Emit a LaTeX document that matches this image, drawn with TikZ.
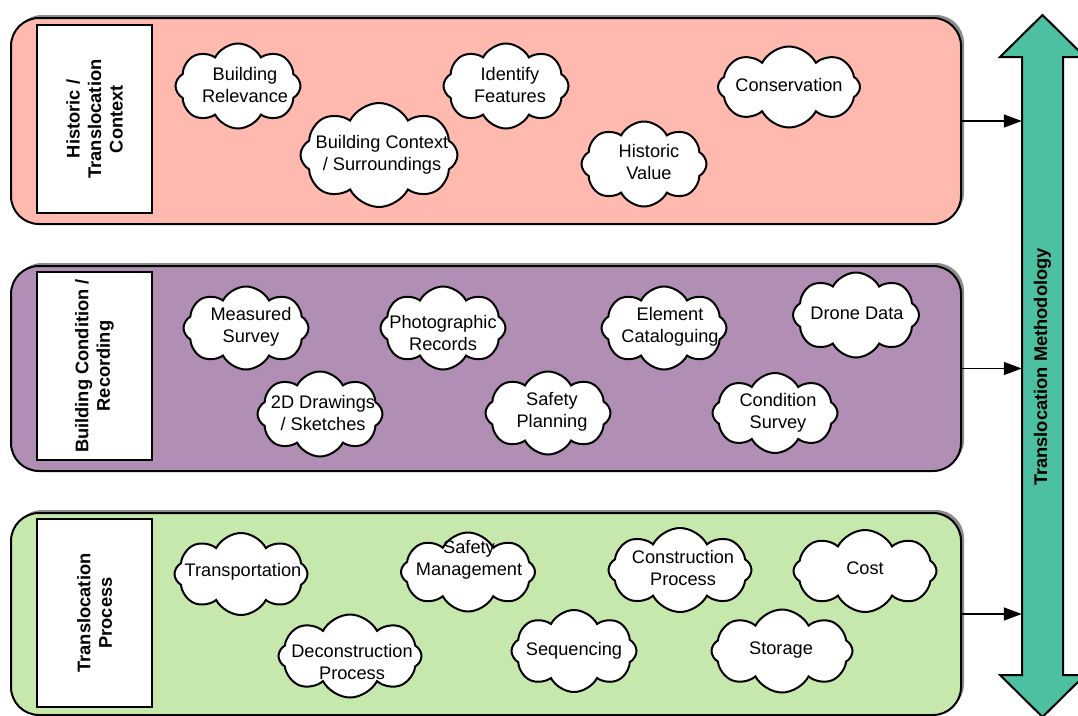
\documentclass[tikz,border=0pt]{standalone}
\usepackage{fontspec}
\setmainfont{Liberation Sans}
\usetikzlibrary{shapes.symbols,arrows.meta,shadows}
\definecolor{pinkp}{HTML}{FFB9AF}
\definecolor{purpp}{HTML}{B18EB4}
\definecolor{greenp}{HTML}{C7E8AC}
\definecolor{tealm}{HTML}{4CC0A0}
\newcommand{\cld}[8]{%
  \node[cloudn, minimum width=#4pt, minimum height=#5pt] (#1) at (#2,#3) {};
  \node[ctext] (#1t) at (#6,#7) {#8};}
\begin{document}
\begin{tikzpicture}[x=1pt,y=-1pt,
  panel/.style={draw=black, line width=2pt, rounded corners=28pt, minimum width=950pt, anchor=north west, inner sep=0pt,
     drop shadow={shadow xshift=3pt, shadow yshift=3pt, fill=black, opacity=0.45}},
  labelbox/.style={draw=black, line width=1.6pt, fill=white, minimum width=115pt, minimum height=188pt, inner sep=0pt},
  ltext/.style={rotate=90, align=center, font=\fontsize{18.3}{21.5}\selectfont\bfseries},
  cloudn/.style={cloud, cloud puffs=8, cloud puff arc=125, cloud ignores aspect, draw=black, line width=2pt, fill=white, inner sep=0pt},
  ctext/.style={align=center, font=\fontsize{18.2}{22.5}\selectfont, inner sep=0pt},
  conn/.style={draw=black, line width=1.3pt, -{Triangle[length=18pt,width=13pt]}},
  bigarrow/.style={draw=black, line width=2pt, fill=tealm, line join=miter}
]
\useasboundingbox (0,0) rectangle (1078,715);
% panels
\node[panel, fill=pinkp, minimum height=206pt] (p1) at (10,17) {};
\node[panel, fill=purpp, minimum height=205pt] (p2) at (10,265) {};
\node[panel, fill=greenp, minimum height=202pt] (p3) at (10,512) {};
% label boxes
\node[labelbox] (l1) at (94.5,119) {};
\node[ltext] (l1t) at (l1) {Historic /\\Translocation\\Context};
\node[labelbox] (l2) at (94.5,366) {};
\node[ltext] (l2t) at (l2) {Building Condition /\\Recording};
\node[labelbox] (l3) at (94.5,613) {};
\node[ltext] (l3t) at (l3) {Translocation\\Process};
% big double arrow
\draw[bigarrow] (1022,675) -- (1022,57) -- (1000,57) -- (1042.5,15) -- (1085,57) -- (1063,57)
  -- (1063,675) -- (1085,675) -- (1042.5,717) -- (1000,675) -- cycle;
\node[minimum width=41pt, minimum height=618pt, inner sep=0pt] (m) at (1042.5,366) {};
\node[rotate=90, font=\fontsize{18.3}{22}\selectfont\bfseries] (mt) at (1042.5,367) {Translocation Methodology};
% connectors
\draw[conn] (p1.east) -- (p1.east -| m.west);
\draw[conn] (p2.east) -- (p2.east -| m.west);
\draw[conn] (p3.east) -- (p3.east -| m.west);
% clouds panel 1
\cld{cbr}{238}{86}{125}{85}{245}{85}{Building\\Relevance}
\cld{cbc}{379}{155}{157}{104}{382}{155}{Building Context\\/ Surroundings}
\cld{cif}{506}{86}{125}{85}{510}{85}{Identify\\Features}
\cld{chv}{644}{164}{125}{85}{649}{162}{Historic\\Value}
\cld{ccn}{789}{87}{142}{81}{789}{85}{Conservation}
% clouds panel 2
\cld{cms}{246}{328}{125}{83}{251}{327}{Measured\\Survey}
\cld{cpr}{443}{328}{125}{83}{443}{333}{Photographic\\Records}
\cld{cec}{664}{328}{125}{83}{670}{327}{Element\\Cataloguing}
\cld{cdd}{856}{315}{126}{85}{857}{313}{Drone Data}
\cld{cdr}{320}{414}{125}{85}{323}{413}{2D Drawings\\/ Sketches}
\cld{csp}{548}{413}{125}{83}{552}{412}{Safety\\Planning}
\cld{ccs}{775}{413}{125}{80}{778}{413}{Condition\\Survey}
% clouds panel 3
\cld{ctr}{241}{574}{133}{82}{243}{572}{Transportation}
\cld{csm}{468}{572}{134}{79}{469}{560}{Safety\\Management}
\cld{ccp}{680}{570}{143}{84}{683}{568}{Construction\\Process}
\cld{cco}{865}{571}{143}{82}{865}{568}{Cost}
\cld{cdp}{350}{656}{143}{83}{352}{662}{Deconstruction\\Process}
\cld{csq}{574}{651}{125}{82}{574}{651}{Sequencing}
\cld{cst}{782}{651}{141}{83}{781}{650}{Storage}
\end{tikzpicture}
\end{document}
